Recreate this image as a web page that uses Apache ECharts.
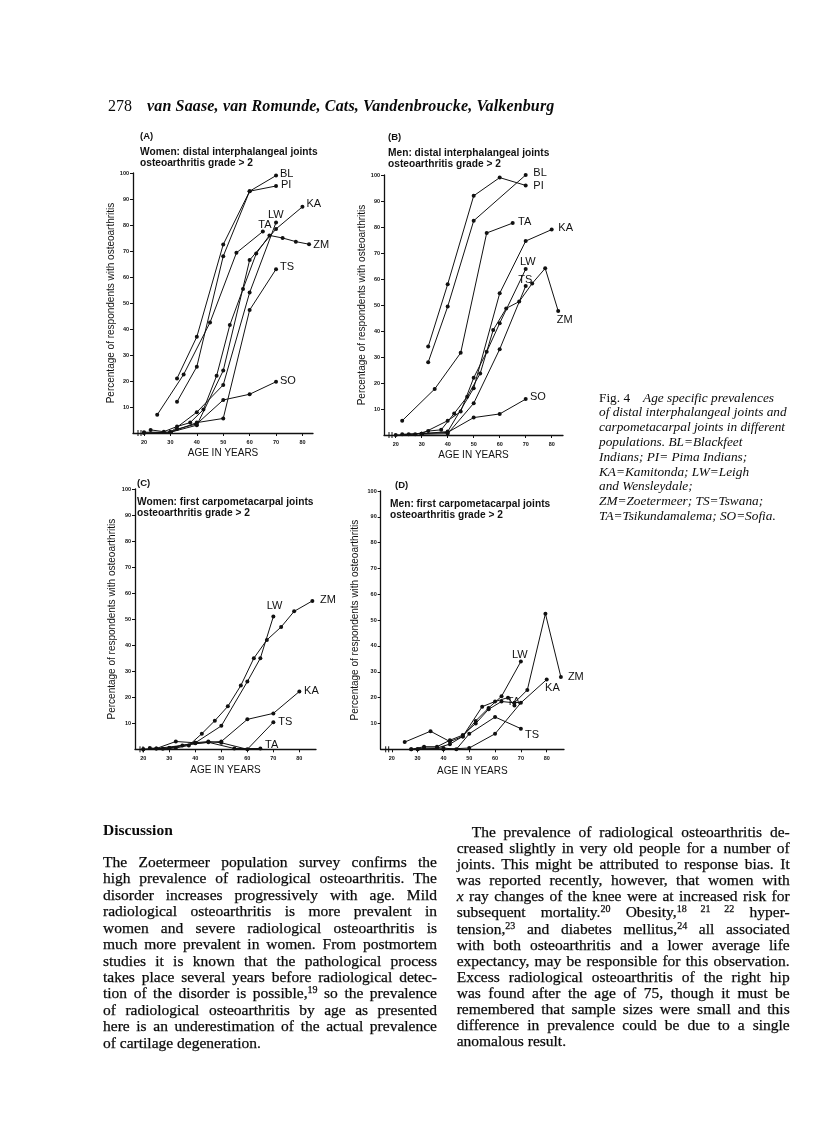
<!DOCTYPE html>
<html><head><meta charset="utf-8">
<script src="https://cdn.jsdelivr.net/npm/echarts@6/dist/echarts.min.js"></script>
<style>
html,body{margin:0;padding:0;background:#fff;}
#page{position:relative;width:816px;height:1144px;overflow:hidden;background:#fff;}
#chart{position:absolute;left:0;top:0;width:816px;height:1144px;}
.serif{position:absolute;font-family:"Liberation Serif","Times New Roman",serif;color:#0a0a0a;}
.col div{text-align:justify;text-align-last:justify;white-space:nowrap;-webkit-text-stroke:0.25px #0a0a0a;}
.col div.last{text-align-last:left;}
sup{font-size:10px;line-height:0;vertical-align:5px;}
</style>
</head><body>
<div id="page">
<div id="chart"></div>
<div class="serif" style="left:108px;top:97px;font-size:16px;line-height:18px;">278</div>
<div class="serif" style="left:147px;top:97px;font-size:16px;line-height:18px;font-style:italic;font-weight:bold;letter-spacing:0.15px;">van Saase, van Romunde, Cats, Vandenbroucke, Valkenburg</div>

<div class="serif" style="left:599px;top:390.6px;font-size:13.3px;line-height:14.8px;font-style:italic;">
<span style="font-style:normal">Fig. 4</span><span style="display:inline-block;width:13px"></span>Age specific prevalences<br>
of distal interphalangeal joints and<br>
carpometacarpal joints in different<br>
populations. BL=Blackfeet<br>
Indians; PI= Pima Indians;<br>
KA=Kamitonda; LW=Leigh<br>
and Wensleydale;<br>
ZM=Zoetermeer; TS=Tswana;<br>
TA=Tsikundamalema; SO=Sofia.
</div>

<div class="serif" style="left:103px;top:821px;font-size:15.5px;line-height:18px;font-weight:bold;">Discussion</div>

<div class="serif col" style="left:103px;top:853.8px;width:334px;font-size:15.5px;line-height:16.45px;">
<div>The Zoetermeer population survey confirms the</div>
<div>high prevalence of radiological osteoarthritis. The</div>
<div>disorder increases progressively with age. Mild</div>
<div>radiological osteoarthritis is more prevalent in</div>
<div>women and severe radiological osteoarthritis is</div>
<div>much more prevalent in women. From postmortem</div>
<div>studies it is known that the pathological process</div>
<div>takes place several years before radiological detec-</div>
<div>tion of the disorder is possible,<sup>19</sup> so the prevalence</div>
<div>of radiological osteoarthritis by age as presented</div>
<div>here is an underestimation of the actual prevalence</div>
<div class="last">of cartilage degeneration.</div>
</div>

<div class="serif col" style="left:456.7px;top:824px;width:333px;font-size:15.5px;line-height:16.1px;">
<div style="padding-left:15px">The prevalence of radiological osteoarthritis de-</div>
<div>creased slightly in very old people for a number of</div>
<div>joints. This might be attributed to response bias. It</div>
<div>was reported recently, however, that women with</div>
<div><i>x</i> ray changes of the knee were at increased risk for</div>
<div>subsequent mortality.<sup>20</sup> Obesity,<sup>18 21 22</sup> hyper-</div>
<div>tension,<sup>23</sup> and diabetes mellitus,<sup>24</sup> all associated</div>
<div>with both osteoarthritis and a lower average life</div>
<div>expectancy, may be responsible for this observation.</div>
<div>Excess radiological osteoarthritis of the right hip</div>
<div>was found after the age of 75, though it must be</div>
<div>remembered that sample sizes were small and this</div>
<div>difference in prevalence could be due to a single</div>
<div class="last">anomalous result.</div>
</div>
</div>

<script>
// ---------- DATA ----------
const xTickValues = [20, 30, 40, 50, 60, 70, 80];
const yTickValues = [10, 20, 30, 40, 50, 60, 70, 80, 90, 100];

// (A) Women: distal interphalangeal joints  [age, %]
const A_BL = [[32.5,21],[40,37],[50,72.5],[60,93],[70,99]];
const A_PI = [[32.5,12],[40,25.5],[50,68],[60,93],[70,95]];
const A_TA = [[25,7],[35,22.5],[45,42.5],[55,69.3],[65,77.5]];
const A_KA = [[30,0.3],[40,3],[50,24],[60,66.5],[70,78.5],[80,87]];
const A_LW = [[20,0.3],[30,0.3],[40,8],[50,18.5],[60,54],[70,81]];
const A_TS = [[30,0.3],[40,4],[50,5.6],[60,47.3],[70,63]];
const A_ZM = [[22.5,1.2],[27.5,0.5],[32.5,2.5],[37.5,4],[42.5,9],[47.5,22],[52.5,41.5],[57.5,55.4],[62.5,69],[67.5,76],[72.5,75],[77.5,73.6],[82.5,72.6]];
const A_SO = [[20,0],[30,0.3],[32.5,1.5],[40,3.5],[50,12.7],[60,14.9],[70,19.7]];

// (B) Men: distal interphalangeal joints
const B_BL = [[32.5,28],[40,49.4],[50,82.4],[70,100]];
const B_PI = [[32.5,34],[40,58],[50,92],[60,99],[70,96]];
const B_TA = [[22.5,5.5],[35,17.7],[45,31.6],[55,77.7],[65,81.5]];
const B_KA = [[30,0.5],[40,1.3],[50,18],[60,54.5],[70,74.6],[80,79]];
const B_LW = [[22.5,0.3],[30,0.5],[40,5.5],[45,9],[50,22],[55,32],[60,43],[70,63.8]];
const B_TS = [[30,0.3],[40,0.5],[50,12.2],[60,33],[70,57.3]];
const B_ZM = [[25,0.3],[27.5,0.3],[32.5,1.5],[37.5,2],[42.5,8.3],[47.5,14.7],[52.5,23.7],[57.5,40.4],[62.5,48.7],[67.5,51.3],[72.5,58.3],[77.5,64.1],[82.5,47.7]];
const B_SO = [[20,0],[30,0.5],[40,1],[50,6.7],[60,8.1],[70,13.8]];

// (C) Women: first carpometacarpal joints
const C_LW = [[20,0],[30,0.5],[40,2.5],[50,9],[60,26],[65,35],[70,51]];
const C_ZM = [[22.5,0.5],[27.5,0.2],[32.5,0.5],[37.5,1.5],[42.5,6],[47.5,11],[52.5,16.5],[57.5,24.5],[62.5,35],[67.5,42],[73,47],[78,53],[85,57]];
const C_KA = [[30,0.5],[40,2.3],[50,3],[60,11.5],[70,13.8],[80,22.2]];
const C_TS = [[25,0.3],[32.5,3],[40,2.5],[45,3],[50,2.5],[60,0],[70,10.4]];
const C_TA = [[20,0],[25,0.3],[35,1.5],[45,2.7],[55,0.3],[65,0.3]];

// (D) Men: first carpometacarpal joints
const D_LW = [[27.5,0],[32.5,0.5],[37.5,0.5],[42.5,2],[47.5,5],[52.5,11],[57.5,16],[62.5,20.5],[70,34]];
const D_ZM = [[27.5,0],[32.5,1],[37.5,1],[42.5,3.5],[47.5,5.5],[52.5,10],[57.5,15.5],[62.5,18.5],[67.5,18],[72.5,23],[79.5,52.5],[85.5,28]];
const D_KA = [[30,0],[40,0],[50,0.5],[60,6],[70,18],[80,27]];
const D_TA = [[25,2.8],[35,7],[42.5,3],[47.5,5],[55,16.5],[60,18.5],[65,20],[67.5,17]];
const D_TS = [[30,0],[40,0.5],[45,0],[50,6],[60,12.5],[70,8]];

const panelLetters = ['(A)', '(B)', '(C)', '(D)'];
const panelTitles = [
  'Women: distal interphalangeal joints\nosteoarthritis grade > 2',
  'Men: distal interphalangeal joints\nosteoarthritis grade > 2',
  'Women: first carpometacarpal joints\nosteoarthritis grade > 2',
  'Men: first carpometacarpal joints\nosteoarthritis grade > 2'
];
const xAxisName = 'AGE IN YEARS';
const yAxisName = 'Percentage of respondents with osteoarthritis';

// ---------- LAYOUT / STYLE ----------
const INK = '#111';
const SANS = '"Liberation Sans", Arial, Helvetica, sans-serif';
const grids = [
  {left:133, top:173, width:180, height:260, xmin:15.83, xmax:84.0, yGap:15, xGap:15},
  {left:384, top:175, width:179, height:260, xmin:15.5, xmax:84.35, yGap:16, xGap:15},
  {left:135, top:489, width:181, height:260.3, xmin:16.8, xmax:86.4, yGap:18, xGap:15.5},
  {left:380.7, top:491, width:183.3, height:258.3, xmin:15.7, xmax:86.7, yGap:20.5, xGap:17}
];
const letterPos = [[140,131.5],[388,132.5],[137,478.5],[395,480]];
const titlePos = [[140,147.2],[388,148],[137,497.2],[390,499]];

const seriesSpec = [
  [ ['BL',A_BL,[-1,-2]], ['PI',A_PI,[0,-1]], ['TA',A_TA,[-9.5,-6.5]], ['KA',A_KA,[-1,-3]],
    ['LW',A_LW,[-13,-7]], ['TS',A_TS,[-1,-2.5]], ['ZM',A_ZM,[-0.7,1]], ['SO',A_SO,[-1,-1]] ],
  [ ['BL',B_BL,[2.6,-1.7]], ['PI',B_PI,[2.6,0.6]], ['TA',B_TA,[0.3,-1.4]], ['KA',B_KA,[1.6,-1.6]],
    ['LW',B_LW,[-10.7,-7.4]], ['TS',B_TS,[-12.4,-6]], ['ZM',B_ZM,[-6.5,9]], ['SO',B_SO,[-0.7,-2.4]] ],
  [ ['LW',C_LW,[-11.6,-10.5]], ['ZM',C_ZM,[2.7,-1]], ['KA',C_KA,[-0.3,-0.8]], ['TS',C_TS,[0,-0.5]], ['TA',C_TA,[-0.3,-3.5]] ],
  [ ['LW',D_LW,[-14,-6.5]], ['ZM',D_ZM,[2,0]], ['KA',D_KA,[-6.6,8]], ['TA',D_TA,[-12.6,-3.7]], ['TS',D_TS,[-0.8,6.4]] ]
];

const option = {
  animation:false,
  backgroundColor:'transparent',
  title:[],
  grid:[], xAxis:[], yAxis:[], series:[]
};

grids.forEach((g,i)=>{
  option.grid.push({left:g.left, top:g.top, width:g.width, height:g.height, containLabel:false});
  option.xAxis.push({
    type:'value', gridIndex:i, min:g.xmin, max:g.xmax,
    name:xAxisName, nameLocation:'middle', nameGap:g.xGap,
    nameTextStyle:{fontFamily:SANS, fontSize:10, color:INK},
    axisLine:{show:true, onZero:false, lineStyle:{color:INK, width:1.3}},
    axisTick:{show:true, customValues:xTickValues, length:3, lineStyle:{color:INK, width:1}},
    axisLabel:{show:true, customValues:xTickValues, fontFamily:SANS, fontSize:5.5, fontWeight:'bold', color:INK, margin:6},
    splitLine:{show:false}
  });
  option.yAxis.push({
    type:'value', gridIndex:i, min:0, max:100, interval:10,
    name:yAxisName, nameLocation:'middle', nameGap:g.yGap,
    nameTextStyle:{fontFamily:SANS, fontSize:10, color:INK},
    axisLine:{show:true, lineStyle:{color:INK, width:1.3}},
    axisTick:{show:true, customValues:yTickValues, length:3, lineStyle:{color:INK, width:1}},
    axisLabel:{show:true, customValues:yTickValues, fontFamily:SANS, fontSize:5.5, fontWeight:'bold', color:INK, margin:4},
    splitLine:{show:false}
  });
  option.title.push({text:panelLetters[i], left:letterPos[i][0], top:letterPos[i][1], padding:0,
    textStyle:{fontFamily:SANS, fontSize:9.5, fontWeight:'bold', color:INK}});
  option.title.push({text:panelTitles[i], left:titlePos[i][0], top:titlePos[i][1], padding:0,
    textStyle:{fontFamily:SANS, fontSize:10.2, fontWeight:'bold', color:INK, lineHeight:10.6}});
  seriesSpec[i].forEach(([name,data,off])=>{
    option.series.push({
      type:'line', name:name, xAxisIndex:i, yAxisIndex:i, data:data,
      symbol:'circle', symbolSize:4, showSymbol:true, clip:false, silent:true,
      lineStyle:{color:INK, width:1}, itemStyle:{color:INK},
      endLabel:{show:true, formatter:name, fontFamily:SANS, fontSize:11, color:INK, distance:5, offset:off}
    });
  });
});

const chart = echarts.init(document.getElementById('chart'), null, {renderer:'canvas', width:816, height:1144});
chart.setOption(option);

// axis-break marks near the origin of each x axis
const gfx = [];
grids.forEach((g,i)=>{
  const p = chart.convertToPixel({gridIndex:i}, [g.xmin, 0]);
  [5, 8].forEach(d=>{
    gfx.push({type:'line', shape:{x1:p[0]+d, y1:p[1]-3, x2:p[0]+d, y2:p[1]+3}, style:{stroke:INK, lineWidth:1}});
  });
});
chart.setOption({graphic:gfx});
</script>
</body></html>
